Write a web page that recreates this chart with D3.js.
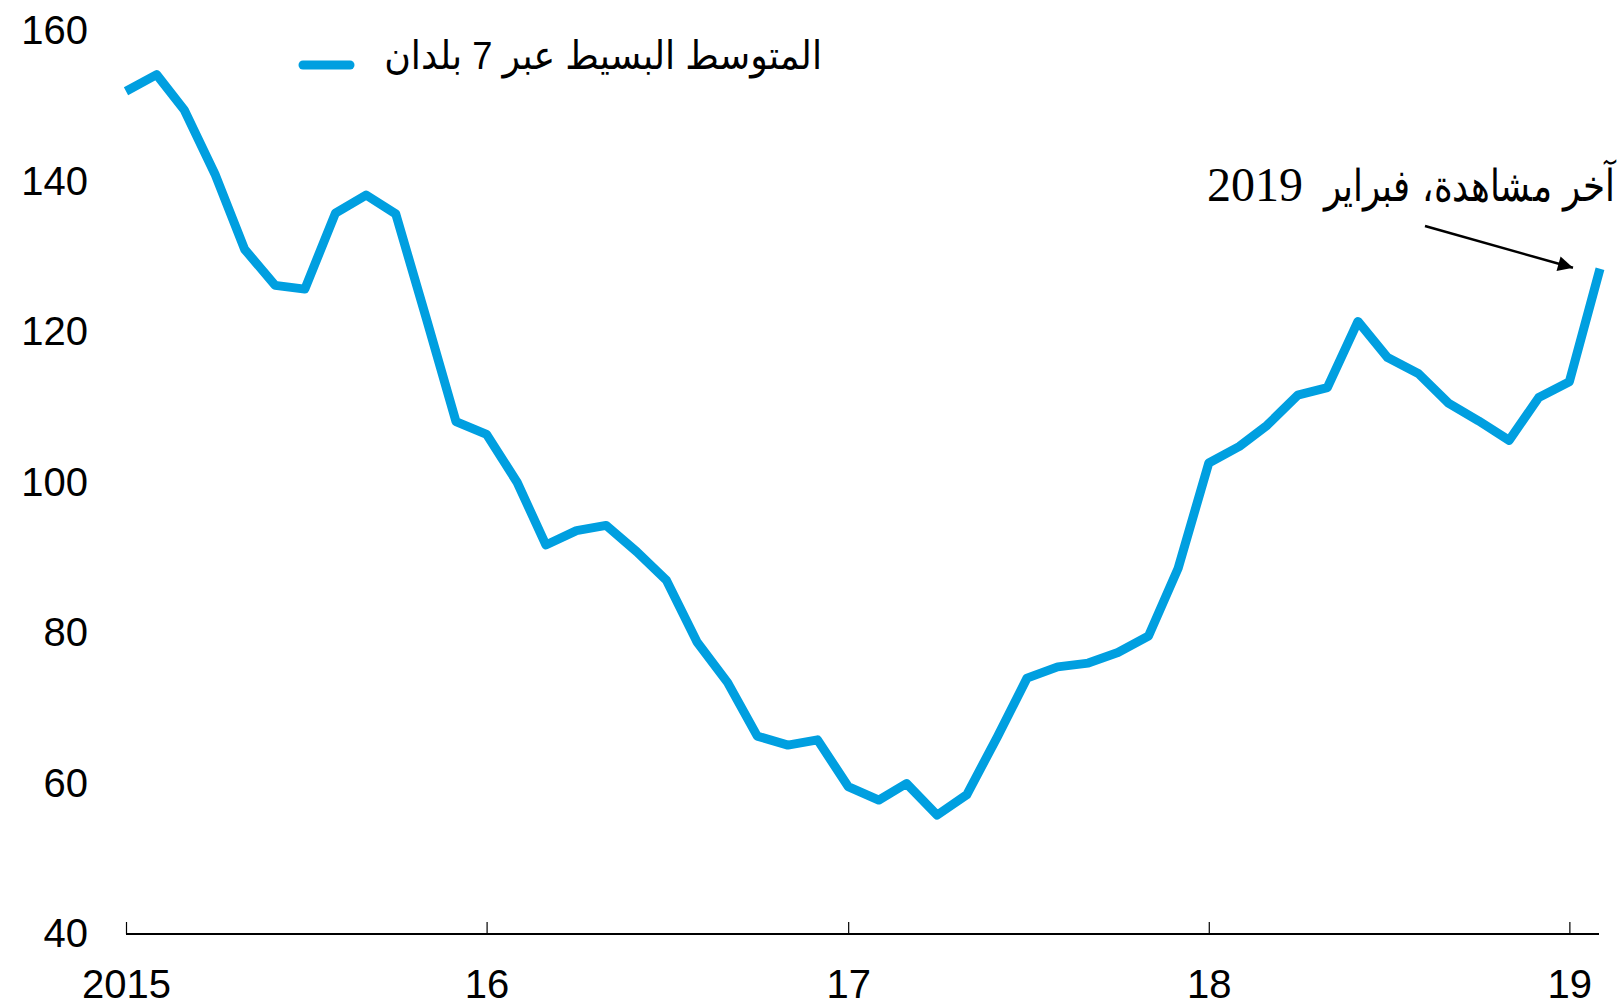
<!DOCTYPE html>
<html>
<head>
<meta charset="utf-8">
<script src="https://cdn.jsdelivr.net/npm/d3@7"></script>
<style>
  html, body { margin: 0; padding: 0; background: #ffffff; }
  svg { display: block; }
</style>
</head>
<body>
<svg id="chart" width="1622" height="1006"></svg>
<script>
// ---- data ----
const startMonth = "2015-01";
const endMonth = "2019-02";
const values = [
  152.0, 154.2, 149.5, 141.0, 131.0, 126.2, 125.7, 135.8, 138.2, 135.7, 121.8, 108.1,
  106.4, 100.0, 91.7, 93.6, 94.3, 90.8, 87.0, 78.8, 73.4, 66.3, 65.1, 65.8,
  59.6, 57.8, 60.0, 55.8, 58.5, 66.2, 74.0, 75.5, 76.0, 77.4, 79.6, 88.6,
  102.6, 104.8, 107.6, 111.6, 112.6, 121.4, 116.6, 114.5, 110.5, 108.2, 105.6, 111.3,
  113.4, 128.4
];
const xTickYears = [2015, 2016, 2017, 2018, 2019];
const xTickLabels = ["2015", "16", "17", "18", "19"];
const yTicks = [40, 60, 80, 100, 120, 140, 160];
const seriesName = "المتوسط البسيط عبر 7 بلدان";
const annotationWords = "آخر مشاهدة، فبراير";
const annotationYear = "2019";

// ---- setup ----
const parse = d3.timeParse("%Y-%m");
const months = d3.timeMonth.range(parse(startMonth), d3.timeMonth.offset(parse(endMonth), 1));
const data = months.map((m, i) => ({ date: m, value: values[i] }));

const svg = d3.select("#chart");
const color = "#009FE0";
const plotLeft = 126, plotRight = 1600, plotTop = 31, plotBottom = 934;

const x = d3.scaleTime()
  .domain([parse(startMonth), parse(endMonth)])
  .range([plotLeft, plotRight]);
const y = d3.scaleLinear()
  .domain([40, 160])
  .range([plotBottom, plotTop]);

// x axis
const xAxis = d3.axisBottom(x)
  .tickValues(xTickYears.map(yr => new Date(yr, 0, 1)))
  .tickFormat((d, i) => xTickLabels[i])
  .tickSizeInner(-12)
  .tickSizeOuter(0)
  .tickPadding(36);

const gx = svg.append("g")
  .attr("transform", `translate(0,${plotBottom})`)
  .call(xAxis);
gx.select(".domain").attr("stroke", "#000").attr("stroke-width", 2.2)
  .attr("d", `M${plotLeft},0H${plotRight - 1}`);
gx.selectAll(".tick line").attr("stroke", "#000").attr("stroke-width", 1.2);
gx.selectAll(".tick text")
  .attr("fill", "#000")
  .style("font-family", "'Liberation Sans', Arial, sans-serif")
  .style("font-size", "40px");

// y axis (labels only)
const yAxis = d3.axisLeft(y)
  .tickValues(yTicks)
  .tickSize(0)
  .tickPadding(38);
const gy = svg.append("g")
  .attr("transform", `translate(${plotLeft},0)`)
  .call(yAxis);
gy.select(".domain").remove();
gy.selectAll(".tick text")
  .attr("fill", "#000")
  .style("font-family", "'Liberation Sans', Arial, sans-serif")
  .style("font-size", "40px");

// line
const line = d3.line()
  .x(d => x(d.date))
  .y(d => y(d.value));

svg.append("path")
  .datum(data)
  .attr("fill", "none")
  .attr("stroke", color)
  .attr("stroke-width", 9)
  .attr("stroke-linejoin", "round")
  .attr("stroke-linecap", "butt")
  .attr("d", line);

// helper: fit text to a width by horizontal scaling, anchored at its right edge
function fitRight(sel, rightX, baseY, width) {
  const len = sel.node().getComputedTextLength();
  const sx = len > 0 ? width / len : 1;
  sel.attr("x", 0).attr("y", 0)
     .attr("text-anchor", "end")
     .attr("transform", `translate(${rightX},${baseY}) scale(${sx},1)`);
}

// legend
svg.append("line")
  .attr("x1", 303).attr("x2", 350)
  .attr("y1", 65).attr("y2", 65)
  .attr("stroke", color)
  .attr("stroke-width", 9)
  .attr("stroke-linecap", "round");
const legendText = svg.append("text")
  .attr("text-anchor", "end")
  .attr("fill", "#000")
  .style("font-family", "'Liberation Sans', Arial, 'DejaVu Sans', sans-serif")
  .style("font-size", "39px")
  .text(seriesName);
fitRight(legendText, 822, 69, 438);

// annotation
svg.append("defs").append("marker")
  .attr("id", "arrow")
  .attr("viewBox", "0 0 10 10")
  .attr("refX", 10).attr("refY", 5)
  .attr("markerWidth", 7.5).attr("markerHeight", 6)
  .attr("markerUnits", "strokeWidth")
  .attr("orient", "auto")
  .append("path")
  .attr("d", "M0,0L10,5L0,10Z")
  .attr("fill", "#000");

const lastPt = data[data.length - 1];
svg.append("line")
  .attr("x1", 1425).attr("y1", 226)
  .attr("x2", x(lastPt.date) - 27).attr("y2", y(lastPt.value) - 1)
  .attr("stroke", "#000")
  .attr("stroke-width", 2.5)
  .attr("marker-end", "url(#arrow)");

const annWords = svg.append("text")
  .attr("fill", "#000")
  .attr("word-spacing", "4")
  .style("font-family", "'Liberation Serif', 'Times New Roman', 'DejaVu Serif', serif")
  .style("font-size", "44px")
  .text(annotationWords);
fitRight(annWords, 1615, 201, 290);

svg.append("text")
  .attr("x", 1303).attr("y", 201)
  .attr("text-anchor", "end")
  .attr("fill", "#000")
  .style("font-family", "'Liberation Serif', 'Times New Roman', serif")
  .style("font-size", "48px")
  .text(annotationYear);
</script>
</body>
</html>
